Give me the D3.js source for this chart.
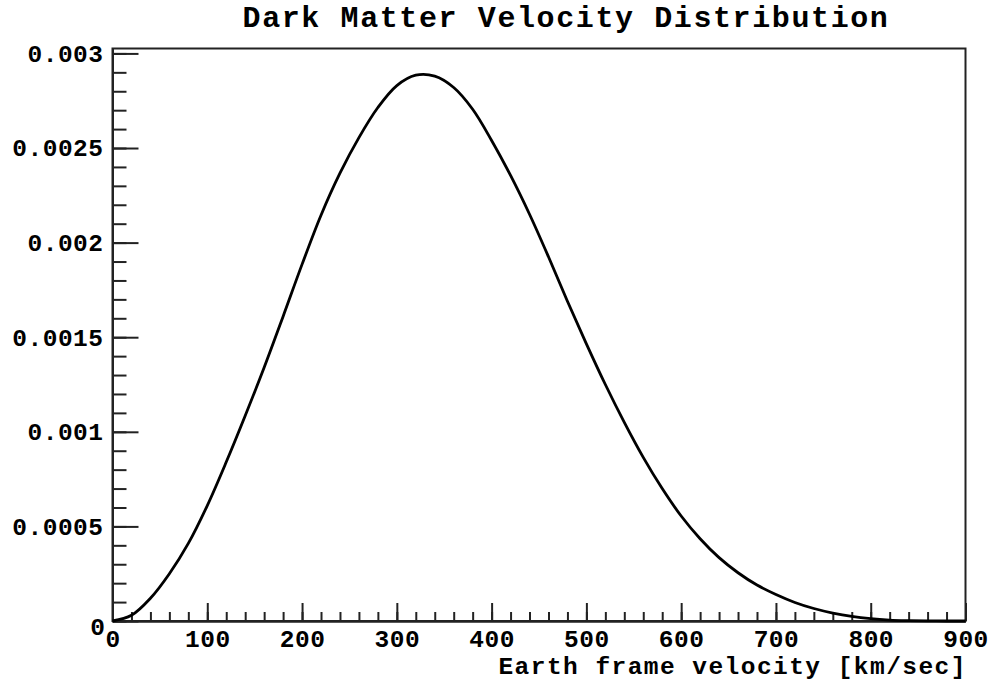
<!DOCTYPE html>
<html>
<head>
<meta charset="utf-8">
<script src="https://cdn.jsdelivr.net/npm/d3@7"></script>
<style>
  body { margin: 0; background: #fff; }
  svg text { font-family: "Liberation Mono", "DejaVu Sans Mono", monospace; font-weight: bold; fill: #000; }
  .axis path, .axis line { stroke: #222; stroke-width: 2; }
</style>
</head>
<body>
<script>
var WIDTH = 995;
var HEIGHT = 680;
var LEFT = 112.5, RIGHT = 965.5, TOP = 48.5, BOTTOM = 621;

var title = "Dark Matter Velocity Distribution";
var xTitle = "Earth frame velocity [km/sec]";

// values
var velocity = [0,20,40,60,80,100,120,140,160,180,200,220,240,260,280,300,320,340,360,380,
  400,420,440,460,480,500,520,540,560,580,600,620,640,660,680,700,720,740,760,780,800,820,840,860,880,900];
var density = [0,0.00003,0.00012,0.00025,0.00041,0.00061,0.00084,0.001085,0.00134,0.00161,
  0.001885,0.002145,0.002367,0.002555,0.002714,0.00283,0.002885,0.00288,0.00282,0.002705,
  0.00254,0.002355,0.00215,0.001925,0.00169,0.001465,0.00125,0.00105,0.000865,0.0007,
  0.000555,0.000435,0.000335,0.000255,0.00019,0.00014,0.000098,0.000066,0.000042,0.000024,
  0.000012,0.000005,0.000002,0.0000005,0,0];

var xMajor = [0,100,200,300,400,500,600,700,800,900];
var yMajor = [0,0.0005,0.001,0.0015,0.002,0.0025,0.003];
var xMinor = d3.range(0, 901, 20);
var yMinor = d3.range(0, 31).map(function (i) { return i / 10000; });

var xScale = d3.scaleLinear().domain([0, 900]).range([LEFT, RIGHT]);
var yScale = d3.scaleLinear().domain([0, 0.003026]).range([BOTTOM, TOP]);

var svg = d3.select('body').append('svg')
  .attr('width', WIDTH)
  .attr('height', HEIGHT);

// frame
svg.append('rect')
  .attr('x', LEFT).attr('y', TOP)
  .attr('width', RIGHT - LEFT).attr('height', BOTTOM - TOP)
  .attr('fill', 'none').attr('stroke', '#222').attr('stroke-width', 2);

// minor ticks
svg.append('g').attr('class', 'axis')
  .attr('transform', 'translate(0,' + BOTTOM + ')')
  .call(d3.axisBottom(xScale).tickValues(xMinor).tickSizeInner(-9).tickSizeOuter(0).tickFormat(''));
svg.append('g').attr('class', 'axis')
  .attr('transform', 'translate(' + LEFT + ',0)')
  .call(d3.axisLeft(yScale).tickValues(yMinor).tickSizeInner(-14).tickSizeOuter(0).tickFormat(''));

// major ticks + labels
var fmtY = function (d) { return d === 0 ? '0' : String(+d.toFixed(4)); };
var xAxis = svg.append('g').attr('class', 'axis')
  .attr('transform', 'translate(0,' + BOTTOM + ')')
  .call(d3.axisBottom(xScale).tickValues(xMajor).tickSizeInner(-18).tickSizeOuter(0).tickPadding(9));
var yAxis = svg.append('g').attr('class', 'axis')
  .attr('transform', 'translate(' + LEFT + ',0)')
  .call(d3.axisLeft(yScale).tickValues(yMajor).tickSizeInner(-26).tickSizeOuter(0).tickPadding(9).tickFormat(fmtY));

svg.selectAll('.axis text')
  .style('font-family', '"Liberation Mono", monospace')
  .style('font-weight', 'bold')
  .style('font-size', '24.5px')
  .style('letter-spacing', '0.5px')
  .attr('fill', '#000');
yAxis.selectAll('.tick').filter(function (d) { return d === 0; }).select('text').attr('dy', '0.55em').attr('x', -7);

// curve
var line = d3.line()
  .curve(d3.curveCatmullRom.alpha(0.5))
  .x(function (d, i) { return xScale(velocity[i]); })
  .y(function (d) { return yScale(d); });

svg.append('path')
  .attr('d', line(density))
  .attr('fill', 'none')
  .attr('stroke', '#000')
  .attr('stroke-width', 2.8);

// titles
svg.append('text')
  .attr('x', 566).attr('y', 27)
  .attr('text-anchor', 'middle')
  .style('font-size', '30px')
  .style('letter-spacing', '1.6px')
  .text(title);

svg.append('text')
  .attr('x', RIGHT + 1.4).attr('y', 674)
  .attr('text-anchor', 'end')
  .style('font-size', '24.5px')
  .style('letter-spacing', '1.45px')
  .text(xTitle);
</script>
</body>
</html>
